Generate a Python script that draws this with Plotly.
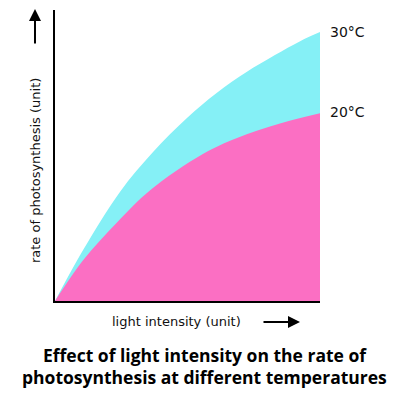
import plotly.graph_objects as go

# Data (x: light intensity, y: rate of photosynthesis; arbitrary units)
x_30 = [0, 1.06, 2.45, 3.70, 4.98, 6.10, 7.20, 8.30, 9.25, 10]
y_30 = [0, 1.75, 3.75, 5.12, 6.29, 7.15, 7.85, 8.45, 8.93, 9.24]
x_20 = [0, 1.06, 2.34, 3.58, 5.58, 6.87, 8.49, 10]
y_20 = [0, 1.40, 2.70, 3.80, 5.05, 5.60, 6.10, 6.45]
series_labels = ["30°C", "20°C"]
x_label = "light intensity (unit)"
y_label = "rate of photosynthesis (unit)"
title_lines = ["Effect of light intensity on the rate of",
               "photosynthesis at different temperatures"]

CYAN = "#85F0F6"
PINK = "#FB6FC3"

fig = go.Figure()
fig.add_trace(go.Scatter(x=x_30, y=y_30, mode="lines", line=dict(width=0, shape="spline", color=CYAN),
                         fill="tozeroy", fillcolor=CYAN, hoverinfo="skip", name=series_labels[0]))
fig.add_trace(go.Scatter(x=x_20, y=y_20, mode="lines", line=dict(width=0, shape="spline", color=PINK),
                         fill="tozeroy", fillcolor=PINK, hoverinfo="skip", name=series_labels[1]))

font_reg = "'DejaVu Sans', sans-serif"
font_title = "'Open Sans', sans-serif"

annotations = [
    # series labels at the right ends
    dict(x=1.03, y=0.924, xref="paper", yref="paper", text=series_labels[0], showarrow=False,
         xanchor="left", yanchor="middle", font=dict(size=14, color="#111", family=font_reg)),
    dict(x=1.03, y=0.649, xref="paper", yref="paper", text=series_labels[1], showarrow=False,
         xanchor="left", yanchor="middle", font=dict(size=14, color="#111", family=font_reg)),
    # axis labels
    dict(x=0.46, y=-0.072, xref="paper", yref="paper", text=x_label, showarrow=False,
         xanchor="center", yanchor="middle", font=dict(size=13, color="#111", family=font_reg)),
    dict(x=-0.0755, y=0.45, xref="paper", yref="paper", text=y_label, showarrow=False, textangle=-90,
         xanchor="center", yanchor="middle", font=dict(size=13, color="#111", family=font_reg)),
    # arrows
    dict(x=-0.0755, y=1.007, xref="paper", yref="paper", text="", showarrow=True,
         ax=0, ay=37, arrowhead=2, arrowsize=1.2, arrowwidth=2, arrowcolor="#000"),
    dict(x=0.9245, y=-0.072, xref="paper", yref="paper", text="", showarrow=True,
         ax=-38, ay=0, arrowhead=2, arrowsize=1.2, arrowwidth=2, arrowcolor="#000"),
    # title
    dict(x=0.566, y=-0.186, xref="paper", yref="paper", text="<b>" + title_lines[0] + "</b>", showarrow=False,
         xanchor="center", yanchor="middle", font=dict(size=17.5, color="#000", family=font_title)),
    dict(x=0.566, y=-0.262, xref="paper", yref="paper", text="<b>" + title_lines[1] + "</b>", showarrow=False,
         xanchor="center", yanchor="middle", font=dict(size=17.5, color="#000", family=font_title)),
]

fig.update_layout(
    width=406, height=390,
    margin=dict(l=47, r=94, t=2, b=97),
    paper_bgcolor="white", plot_bgcolor="white",
    showlegend=False,
    xaxis=dict(range=[0, 10], showgrid=False, zeroline=False, showticklabels=False, ticks="",
               showline=True, linecolor="#000", linewidth=2, fixedrange=True),
    yaxis=dict(range=[0, 10], showgrid=False, zeroline=False, showticklabels=False, ticks="",
               showline=True, linecolor="#000", linewidth=2, fixedrange=True),
    annotations=annotations,
)

fig.write_html("out.html", config={"displayModeBar": False})
